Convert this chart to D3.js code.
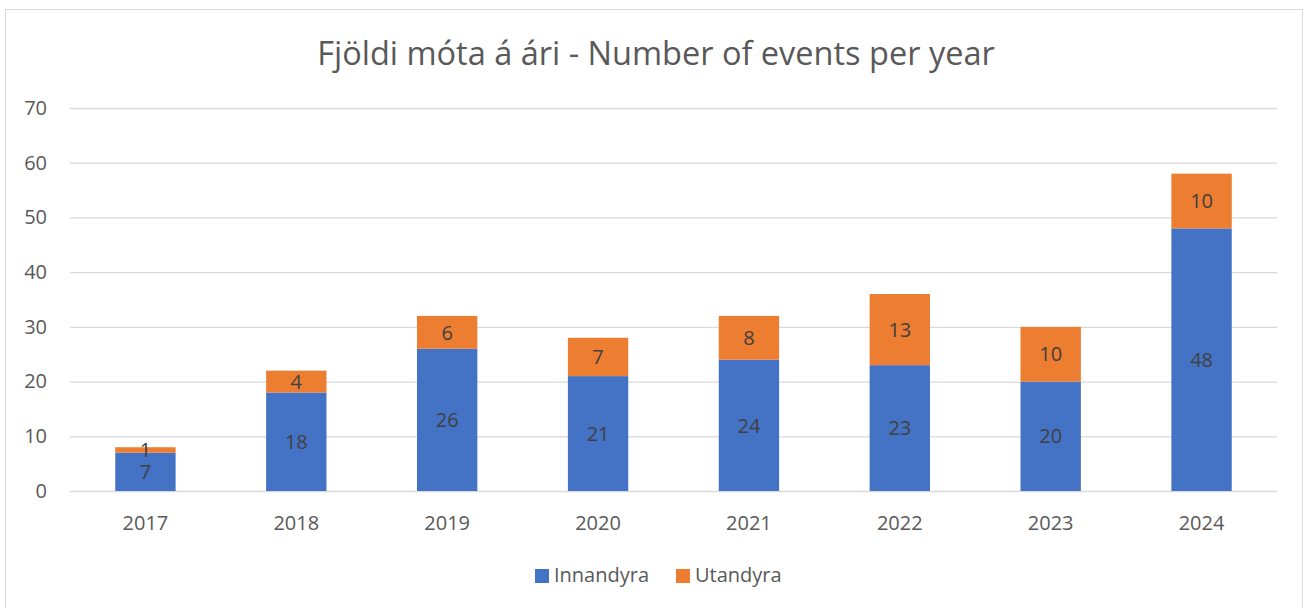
<!DOCTYPE html>
<html><head><meta charset="utf-8">
<script src="https://cdn.jsdelivr.net/npm/d3@7"></script>
<style>body{margin:0;background:#fff;} svg{display:block;}</style>
</head><body>
<svg id="c" width="1306" height="608"></svg>
<script>
const years = ["2017","2018","2019","2020","2021","2022","2023","2024"];
const innandyra = [7,18,26,21,24,23,20,48];
const utandyra = [1,4,6,7,8,13,10,10];
const seriesNames = ["Innandyra","Utandyra"];
const seriesColors = ["#4472C4","#ED7D31"];
const yTicks = [0,10,20,30,40,50,60,70];
const title = "Fjöldi móta á ári - Number of events per year";

(function(){
const font = "'Open Sans', 'Noto Sans', sans-serif";
const svg = d3.select("#c");
svg.append("rect").attr("x",5.5).attr("y",9.5).attr("width",1297).attr("height",610)
  .attr("fill","#fff").attr("stroke","#D9D9D9");

const pl=70, pr=1277, pt=108, pb=491;
const x = d3.scaleBand().domain(years).range([pl,pr]).paddingInner(0.6).paddingOuter(0.3);
const y = d3.scaleLinear().domain([0,70]).range([pb,pt]);

svg.append("text").attr("x",656).attr("y",65).attr("text-anchor","middle")
  .attr("font-family",font).attr("font-size",32.5).attr("fill","#595959").text(title);

const gy = svg.append("g").attr("transform",`translate(${pl},0)`)
  .call(d3.axisLeft(y).tickValues(yTicks).tickSize(-(pr-pl)).tickPadding(23));
gy.select(".domain").remove();
gy.selectAll(".tick line").attr("stroke","#D9D9D9").attr("stroke-width",1.3);
gy.selectAll(".tick text").attr("font-family",font).attr("font-size",20).attr("fill","#595959");

const gx = svg.append("g").attr("transform",`translate(0,${pb})`)
  .call(d3.axisBottom(x).tickSize(0).tickPadding(25));
gx.select(".domain").remove();
gx.selectAll(".tick text").attr("font-family",font).attr("font-size",20).attr("fill","#595959");

const data = years.map((yr,i)=>({year:yr, Innandyra:innandyra[i], Utandyra:utandyra[i]}));
const stacked = d3.stack().keys(seriesNames)(data);

stacked.forEach((s,si)=>{
  const g = svg.append("g");
  g.selectAll("rect").data(s).join("rect")
    .attr("x",d=>x(d.data.year)).attr("width",x.bandwidth())
    .attr("y",d=>y(d[1])).attr("height",d=>y(d[0])-y(d[1]))
    .attr("fill",seriesColors[si]);
  g.selectAll("text").data(s).join("text")
    .attr("x",d=>x(d.data.year)+x.bandwidth()/2)
    .attr("y",d=>(y(d[0])+y(d[1]))/2)
    .attr("dy","0.36em").attr("text-anchor","middle")
    .attr("font-family",font).attr("font-size",20).attr("fill","#404040")
    .text(d=>d[1]-d[0]);
});

const legend = svg.append("g");
const lx = [535,676];
seriesNames.forEach((n,i)=>{
  legend.append("rect").attr("x",lx[i]).attr("y",569).attr("width",14).attr("height",14).attr("fill",seriesColors[i]);
  legend.append("text").attr("x",lx[i]+19).attr("y",575).attr("dy","0.36em")
    .attr("font-family",font).attr("font-size",20).attr("fill","#595959").text(n);
});
})();
</script>
</body></html>
